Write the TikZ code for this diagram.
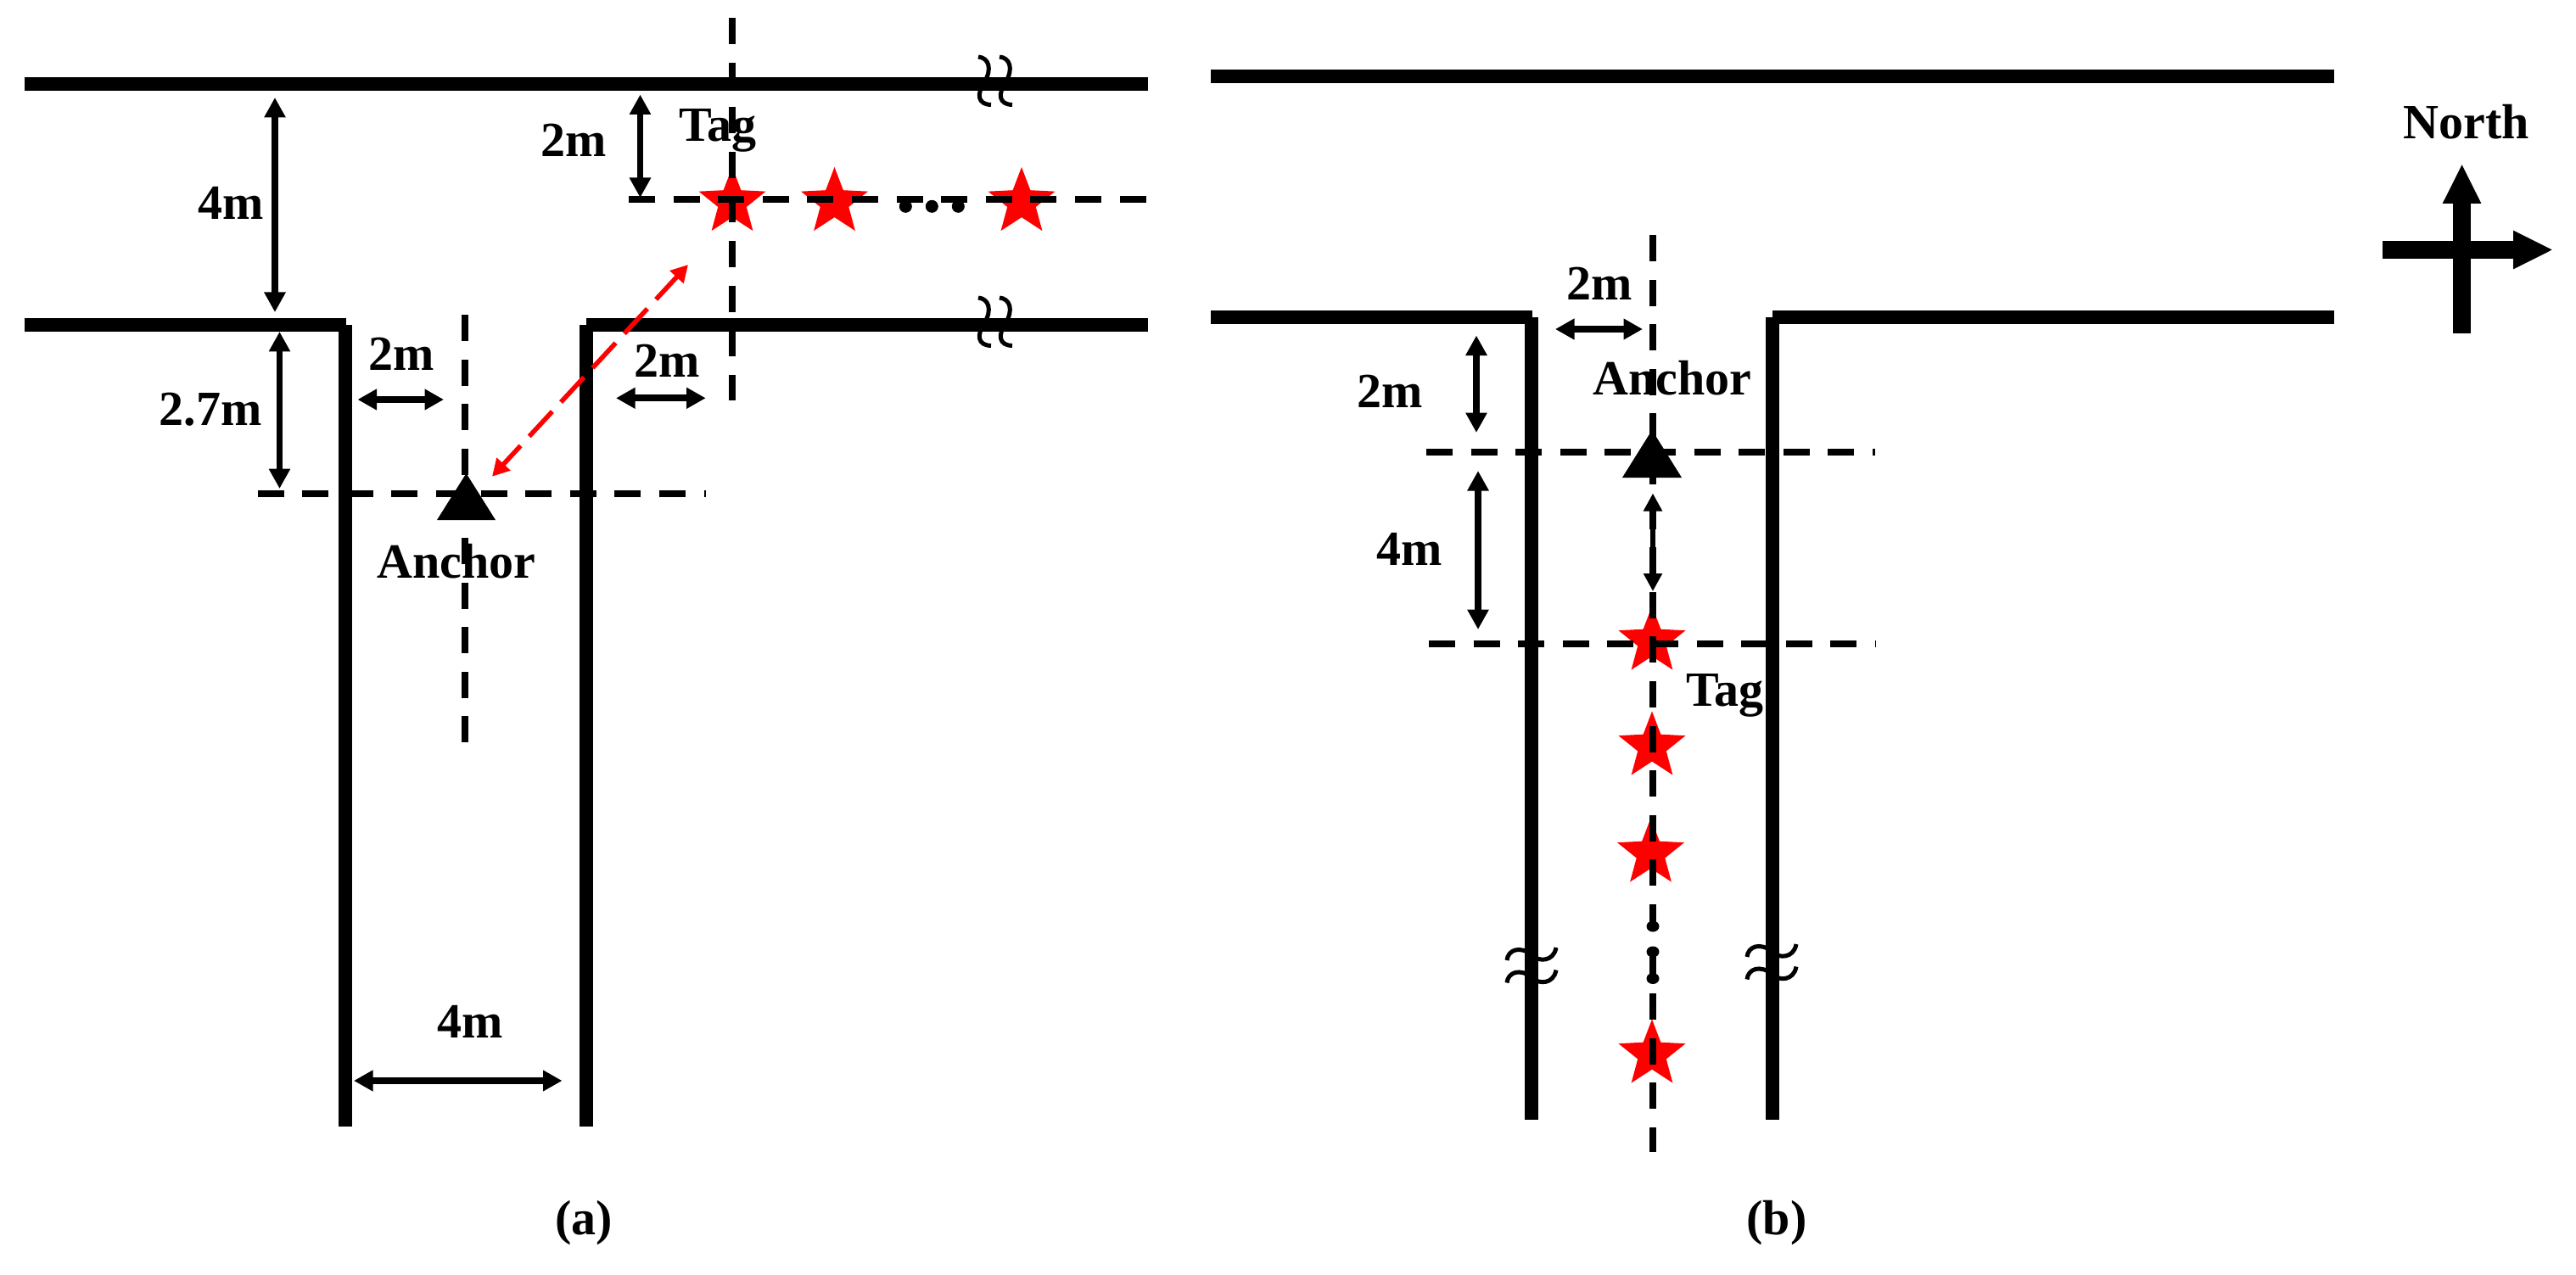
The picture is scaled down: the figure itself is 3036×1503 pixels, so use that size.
\documentclass[tikz,border=0pt]{standalone}
\usepackage{fontspec}
\setmainfont{Liberation Serif}
\usetikzlibrary{arrows.meta,shapes.geometric}
\tikzset{
  x=1pt,y=-1pt,
  road/.style={line width=16pt,black},
  axisline/.style={line width=8pt,black,dash pattern=on 31pt off 21.6pt},
  dim/.style={line width=7.5pt,black,{Triangle[length=23.5pt,width=24pt]}-{Triangle[length=23.5pt,width=24pt]}},
  dimwide/.style={line width=8pt,black,{Triangle[length=22.5pt,width=23.5pt]}-{Triangle[length=22.5pt,width=23.5pt]}},
  dimthin/.style={line width=6pt,black,{Triangle[length=21pt,width=21pt]}-{Triangle[length=21pt,width=21pt]}},
  radio/.style={line width=5.5pt,red,dash pattern=on 40pt off 15pt,dash phase=3pt,{Triangle[length=20pt,width=21pt]}-{Triangle[length=20pt,width=21pt]}},
  compass/.style={line width=21pt,black,-{Triangle[length=47pt,width=42pt]}},
  breakline/.style={line width=5pt,black},
  label/.style={font=\fontsize{58}{64}\selectfont\bfseries,inner sep=0pt,text=black},
  tagstar/.style={star,star points=5,star point ratio=2.35,fill=red,draw=none,inner sep=0pt,minimum size=83pt},
  dot/.style={ellipse,fill=black,inner sep=0pt,minimum width=15pt,minimum height=13pt},
  breakv/.pic={\draw[breakline] (-7,-32) .. controls (5,-31) and (10,-18) .. (0,-2) .. controls (-9,12) and (-8,24) .. (8,24.5);},
  breakh/.pic={\draw[breakline] (-29,6) .. controls (-28,-6) and (-14,-12) .. (1,0) .. controls (8,8) and (26,8) .. (29,-9);}
}
\begin{document}
\begin{tikzpicture}
\useasboundingbox[fill=white] (0,0) rectangle (3036,1503);

% ---------- panel (a) ----------
\node[tagstar] (sa1) at (863,238.5) {};
\node[tagstar] (sa2) at (983.5,238.5) {};
\node[tagstar] (sa3) at (1204,238.5) {};

\draw[road] (28.5,99) -- (1352.5,99);
\draw[road] (28.5,383) -- (408,383);
\draw[road] (691,383) -- (1352.5,383);
\draw[road] (407,383) -- (407,1328);
\draw[road] (691,383) -- (691,1328);

\node[dot,minimum height=15pt] (da1) at (1067.3,243.3) {};
\node[dot,minimum height=15pt] (da2) at (1098.3,243.3) {};
\node[dot,minimum height=15pt] (da3) at (1129.3,243.3) {};

\draw[axisline] (863,21) -- (863,471.5);
\draw[axisline] (741,235.5) -- (1352.5,235.5);
\draw[axisline] (548,371) -- (548,875);
\draw[axisline] (303.5,582) -- (832,582);

\coordinate (anchorA) at (580,561.7);
\coordinate (tagA) at (811,312);
\fill[black] (549.5,558) -- (584,613) -- (515,613) -- cycle;
\draw[radio] (tagA) -- (anchorA);

\draw[dim] (324,115) -- (324,368);
\draw[dim] (754.5,111.5) -- (754.5,233);
\draw[dim] (329.5,391) -- (329.5,576);
\draw[dimwide] (421.5,471) -- (523,471);
\draw[dimwide] (726,469.3) -- (831.7,469.3);
\draw[dimwide] (417,1274) -- (662.5,1274);

\pic at (1160,99) {breakv};
\pic at (1185,99) {breakv};
\pic at (1160,383) {breakv};
\pic at (1185,383) {breakv};

\node[label] (la4) at (272,239) {4m};
\node[label] (la2t) at (676,165) {2m};
\node[label,anchor=base] (latag) at (846,167) {Tag};
\node[label] (la2l) at (473,417) {2m};
\node[label] (la2r) at (786,425) {2m};
\node[label] (la27) at (248,483) {2.7m};
\node[label,anchor=base] (laanc) at (538,681) {Anchor};
\node[label] (la4b) at (554,1204) {4m};
\node[label] (capa) at (688,1442) {(a)};

% ---------- panel (b) ----------
\node[tagstar] (sb1) at (1947,756) {};
\node[tagstar] (sb2) at (1947,880) {};
\node[tagstar] (sb3) at (1945.5,1006) {};
\node[tagstar] (sb4) at (1947,1243) {};

\draw[road] (1427,90) -- (2751,90);
\draw[road] (1427,374) -- (1806,374);
\draw[road] (2089,374) -- (2751,374);
\draw[road] (1805,374) -- (1805,1320);
\draw[road] (2089,374) -- (2089,1320);

\draw[axisline] (1948,277) -- (1948,1357.5);
\draw[axisline] (1681,533) -- (2210,533);
\draw[axisline] (1684,759) -- (2211,759);

\fill[black] (1947,507) -- (1982,563) -- (1912,563) -- cycle;

\node[dot] (db1) at (1948,1092) {};
\node[dot] (db2) at (1948,1122) {};
\node[dot] (db3) at (1948,1153.5) {};

\draw[dimwide] (1833,388) -- (1936,388);
\draw[dim] (1740,395.5) -- (1740,510);
\draw[dim] (1742,555) -- (1742,742);
\draw[dimthin] (1948,581.5) -- (1948,697);

\pic at (1805,1126) {breakh};
\pic at (1805,1152.5) {breakh};
\pic at (2088,1122) {breakh};
\pic at (2088,1148.5) {breakh};

\node[label] (lb2t) at (1885,334) {2m};
\node[label] (lb2l) at (1638,461) {2m};
\node[label] (lb4) at (1661,647) {4m};
\node[label] (lbanc) at (1971,446) {Anchor};
\node[label,anchor=base] (lbtag) at (2033,832) {Tag};
\node[label] (capb) at (2094,1442) {(b)};

% ---------- compass ----------
\node[label] (north) at (2907,144) {North};
\draw[compass] (2901.5,393) -- (2901.5,193);
\draw[compass] (2807.5,294.5) -- (3009,294.5);
\end{tikzpicture}
\end{document}
